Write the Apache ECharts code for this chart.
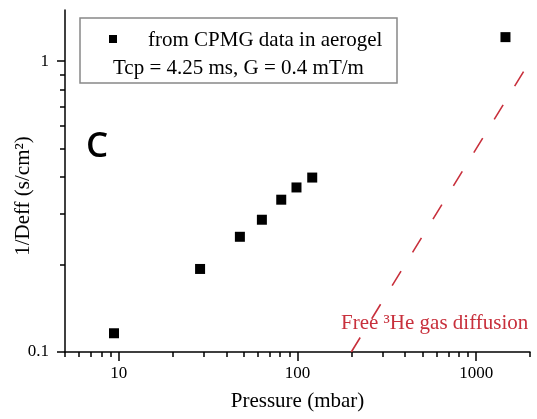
<!DOCTYPE html>
<html>
<head>
<meta charset="utf-8">
<script src="https://cdn.jsdelivr.net/npm/echarts@6/dist/echarts.min.js"></script>
<style>html,body{margin:0;padding:0;background:#fff}#c{width:537px;height:419px}</style>
</head>
<body>
<div id="c"></div>
<script>
// Data
var pressure = [9.4, 28.5, 47.6, 63.2, 81.1, 98.7, 120.9, 1458];
var invDeff  = [0.116, 0.193, 0.249, 0.285, 0.334, 0.368, 0.398, 1.21];
var freeX = [200, 2000];
var freeY = [0.1, 1.0];
var xMajor = [10, 100, 1000];
var xMinor = [5, 6, 7, 8, 9, 20, 30, 40, 50, 60, 70, 80, 90, 200, 300, 400, 500, 600, 700, 800, 900, 2000];
var yMajor = [0.1, 1];
var yMinor = [0.2, 0.3, 0.4, 0.5, 0.6, 0.7, 0.8, 0.9];

var RED = '#c8303c';
var SERIF = '"Liberation Serif", "DejaVu Serif", serif';

var chart = echarts.init(document.getElementById('c'));
var pts = pressure.map(function (p, i) { return [p, invDeff[i]]; });
var free = freeX.map(function (p, i) { return [p, freeY[i]]; });
function plain(v) { return String(v); }

chart.setOption({
  animation: false,
  grid: { left: 65, right: 7, top: 10, bottom: 67 },
  xAxis: [{
    type: 'log', logBase: 10, min: 5, max: 2000,
    name: 'Pressure (mbar)', nameLocation: 'middle', nameGap: 39,
    nameTextStyle: { fontFamily: SERIF, fontSize: 21, color: '#000' },
    axisLine: { show: true, lineStyle: { color: '#000', width: 1.5 } },
    axisTick: { show: true, customValues: xMajor, length: 9, lineStyle: { color: '#000', width: 1.5 } },
    axisLabel: { customValues: xMajor, formatter: plain, fontFamily: SERIF, fontSize: 17, color: '#000', margin: 13 },
    splitLine: { show: false }
  }, {
    type: 'log', logBase: 10, min: 5, max: 2000, position: 'bottom',
    axisLine: { show: false },
    axisTick: { show: true, customValues: xMinor, length: 5, lineStyle: { color: '#000', width: 1.5 } },
    axisLabel: { show: false },
    splitLine: { show: false }
  }],
  yAxis: [{
    type: 'log', logBase: 10, min: 0.1, max: 1.5,
    axisLine: { show: true, lineStyle: { color: '#000', width: 1.5 } },
    axisTick: { show: true, customValues: yMajor, length: 8, lineStyle: { color: '#000', width: 1.5 } },
    axisLabel: { customValues: yMajor, formatter: plain, fontFamily: SERIF, fontSize: 17, color: '#000', margin: 16 },
    splitLine: { show: false }
  }, {
    type: 'log', logBase: 10, min: 0.1, max: 1.5, position: 'left',
    axisLine: { show: false },
    axisTick: { show: true, customValues: yMinor, length: 5, lineStyle: { color: '#000', width: 1.5 } },
    axisLabel: { show: false },
    splitLine: { show: false }
  }],
  series: [{
    name: 'from CPMG data in aerogel',
    type: 'scatter', symbol: 'rect', symbolSize: 10,
    itemStyle: { color: '#000', opacity: 1 },
    data: pts, z: 5
  }, {
    name: 'Free 3He gas diffusion',
    type: 'line', showSymbol: false, symbol: 'none',
    lineStyle: { color: RED, width: 1.6, type: [17, 22] },
    data: free, z: 3
  }],
  graphic: [
    { type: 'rect', shape: { x: 80, y: 18, width: 317, height: 65 },
      style: { fill: '#fff', stroke: '#888', lineWidth: 1.5 }, z: 10 },
    { type: 'rect', shape: { x: 109, y: 35, width: 8, height: 8 },
      style: { fill: '#000' }, z: 11 },
    { type: 'text', x: 148, y: 40, z: 11,
      style: { text: 'from CPMG data in aerogel', font: '21px ' + SERIF, fill: '#000', textVerticalAlign: 'middle' } },
    { type: 'text', x: 113, y: 68, z: 11,
      style: { text: 'Tcp = 4.25 ms, G = 0.4 mT/m', font: '21px ' + SERIF, fill: '#000', textVerticalAlign: 'middle' } },
    { type: 'text', x: 97, y: 147, z: 11,
      style: { text: 'C', font: '600 35px "Open Sans", "Liberation Sans", sans-serif', fill: '#000', textAlign: 'center', textVerticalAlign: 'middle' } },
    { type: 'text', x: 23, y: 196, rotation: Math.PI / 2, z: 11,
      style: { text: '1/Deff (s/cm\u00b2)', font: '21px ' + SERIF, fill: '#000', textAlign: 'center', textVerticalAlign: 'middle' } },
    { type: 'text', x: 341, y: 323, z: 11,
      style: { text: 'Free \u00b3He gas diffusion', font: '21px ' + SERIF, fill: RED, textVerticalAlign: 'middle' } }
  ]
});
</script>
</body>
</html>
